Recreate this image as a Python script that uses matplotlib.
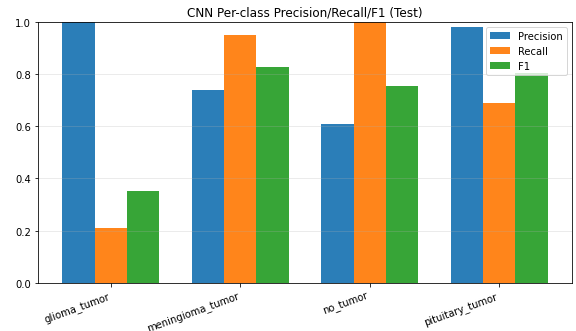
import numpy as np
import matplotlib
matplotlib.use('Agg')
import matplotlib.pyplot as plt

classes = ['glioma_tumor', 'meningioma_tumor', 'no_tumor', 'pituitary_tumor']
precision = [1.000, 0.738, 0.609, 0.981]
recall = [0.211, 0.950, 1.000, 0.690]
f1 = [0.352, 0.829, 0.756, 0.806]

x = np.arange(len(classes))
w = 0.25

fig, ax = plt.subplots(figsize=(8, 4.611), dpi=72)
ax.bar(x - w, precision, w, label='Precision', alpha=0.95)
ax.bar(x, recall, w, label='Recall', alpha=0.95)
ax.bar(x + w, f1, w, label='F1', alpha=0.95)
ax.set_xticks(x)
ax.set_xticklabels(classes, rotation=20, ha='right')
ax.set_ylim(0, 1.0)
ax.set_title('CNN Per-class Precision/Recall/F1 (Test)')
ax.legend()
ax.grid(alpha=0.3, axis='y')
fig.subplots_adjust(left=0.066, right=0.993, top=0.931, bottom=0.145)
plt.savefig('out.png', dpi=72)
plt.close()
